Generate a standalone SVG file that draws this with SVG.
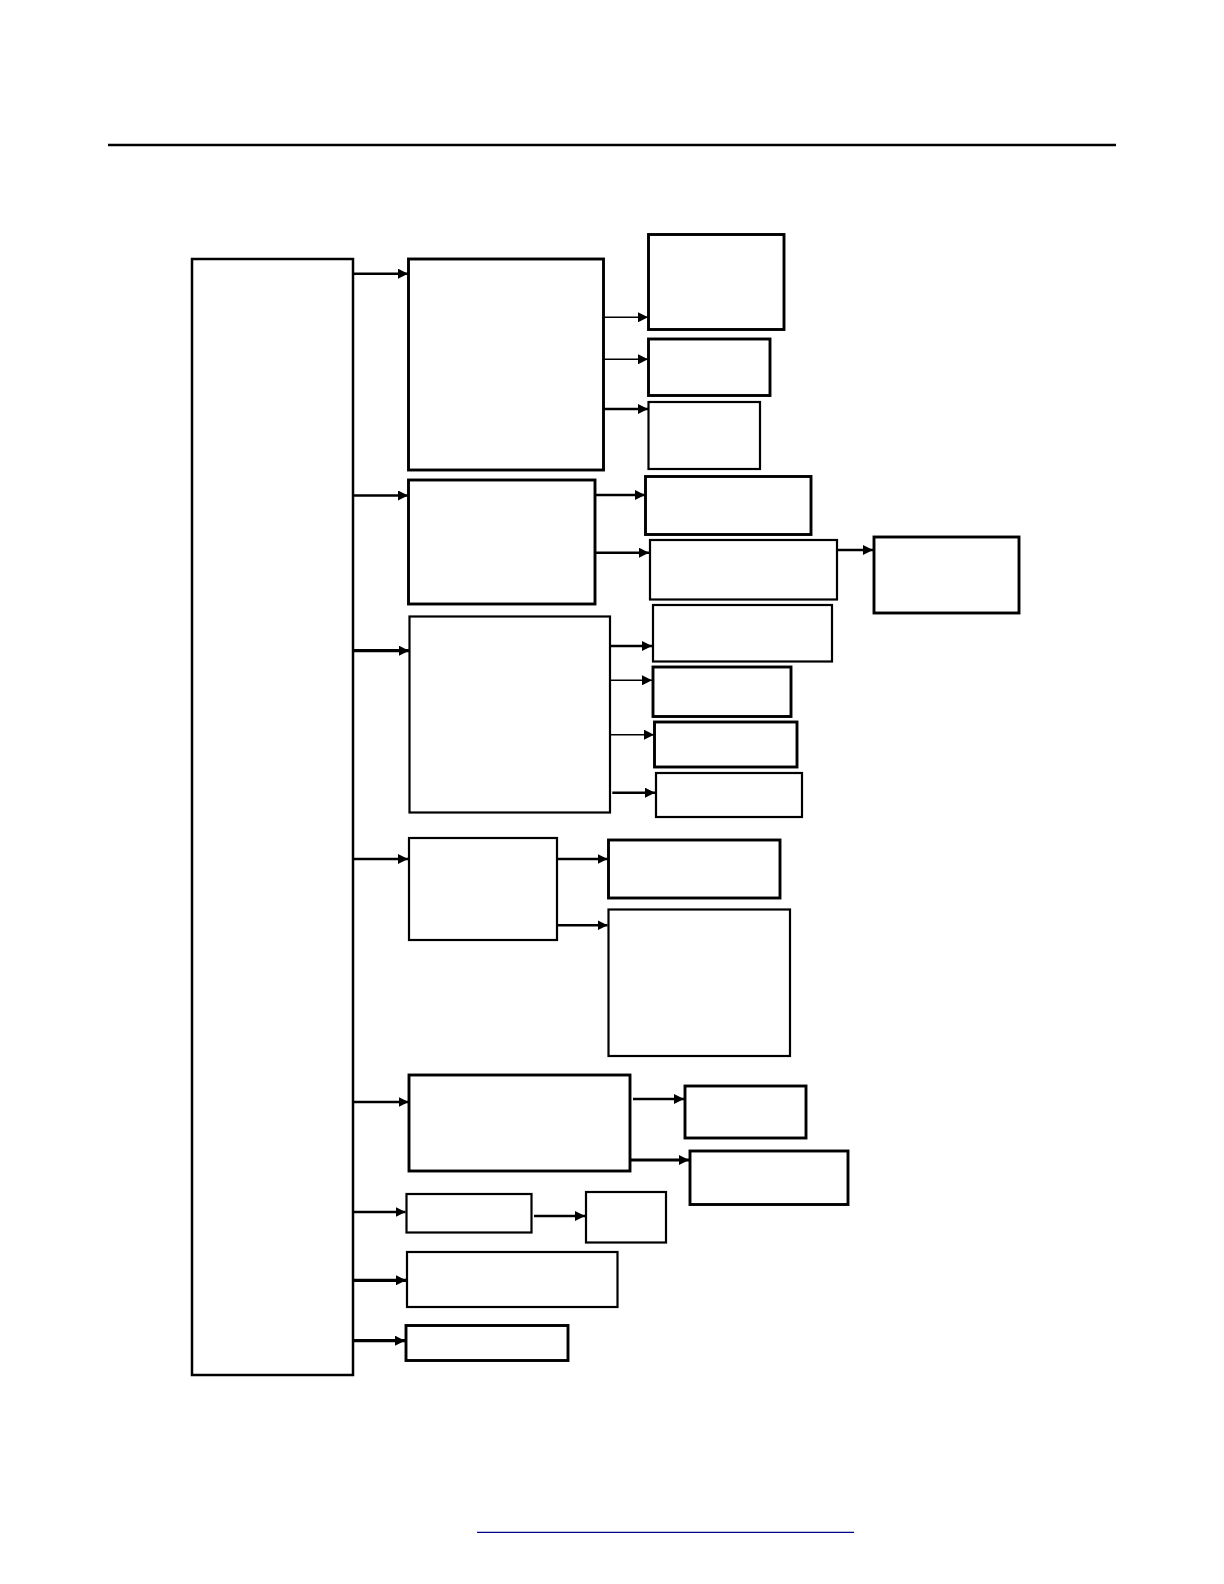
<svg xmlns="http://www.w3.org/2000/svg" width="1224" height="1584" viewBox="0 0 1224 1584">
<style>
.n{fill:#fff;stroke:#000;stroke-width:2.2}
.t{stroke-width:2.9}
.c{stroke:#000;stroke-width:1.6;fill:none;marker-end:url(#a)}
.h{stroke-width:2.5}
</style>
<defs>
<marker id="a" markerUnits="userSpaceOnUse" markerWidth="11" markerHeight="10" refX="10" refY="5" orient="auto">
<path d="M0,0 L10,5 L0,10 z" fill="#000"/>
</marker>
</defs>
<rect width="1224" height="1584" fill="#fff"/>
<line x1="108" y1="145" x2="1116" y2="145" stroke="#000" stroke-width="2.4"/>
<line x1="477" y1="1532.3" x2="854" y2="1532.3" stroke="#00008b" stroke-width="1.3"/>
<g id="main"><rect class="n" x="192" y="259" width="161" height="1116" style="stroke-width:2.5"/></g>
<g id="A"><rect class="n t" x="408.5" y="259" width="195" height="211"/></g>
<g id="A1"><rect class="n t" x="648.5" y="234.5" width="135.5" height="95"/></g>
<g id="A2"><rect class="n t" x="648.5" y="339" width="121.5" height="56.5"/></g>
<g id="A3"><rect class="n" x="648.5" y="402" width="111.5" height="67"/></g>
<g id="C"><rect class="n t" x="408.5" y="480" width="186.5" height="124"/></g>
<g id="C1"><rect class="n t" x="645.5" y="476.5" width="165.5" height="58"/></g>
<g id="C2"><rect class="n" x="650" y="540" width="187" height="59.5"/></g>
<g id="C3"><rect class="n t" x="874" y="537" width="145" height="76"/></g>
<g id="D"><rect class="n" x="409.5" y="616.5" width="200.5" height="196"/></g>
<g id="D1"><rect class="n" x="653" y="605" width="179" height="56.5"/></g>
<g id="D2"><rect class="n t" x="653" y="667" width="138" height="49.5"/></g>
<g id="D3"><rect class="n t" x="654.5" y="722" width="142.5" height="45"/></g>
<g id="D4"><rect class="n" x="656" y="773" width="146" height="44"/></g>
<g id="E"><rect class="n" x="409" y="838" width="148" height="102"/></g>
<g id="E1"><rect class="n t" x="608.5" y="840" width="171.5" height="58"/></g>
<g id="E2"><rect class="n" x="608.5" y="909.5" width="181.5" height="146.5"/></g>
<g id="F"><rect class="n t" x="409" y="1075" width="221" height="96"/></g>
<g id="F1"><rect class="n t" x="685" y="1086" width="121" height="52"/></g>
<g id="F2"><rect class="n t" x="690" y="1151" width="158" height="53.5"/></g>
<g id="G"><rect class="n" x="406.5" y="1194" width="125" height="38.5"/></g>
<g id="G1"><rect class="n" x="586" y="1192" width="80" height="50.5"/></g>
<g id="H"><rect class="n" x="407" y="1252" width="210.5" height="55"/></g>
<g id="I"><rect class="n t" x="406" y="1325.5" width="162" height="35"/></g>
<g id="connectors">
<line class="c h" x1="353" y1="273.7" x2="408" y2="273.7"/>
<line class="c" x1="603.5" y1="317.3" x2="648" y2="317.3"/>
<line class="c" x1="603.5" y1="359.3" x2="648" y2="359.3"/>
<line class="c h" x1="603.5" y1="409" x2="648" y2="409"/>
<line class="c h" x1="353" y1="495.5" x2="408" y2="495.5"/>
<line class="c h" x1="595" y1="495" x2="645" y2="495"/>
<line class="c h" x1="595" y1="552.7" x2="649" y2="552.7"/>
<line class="c h" x1="837" y1="550" x2="873" y2="550"/>
<line class="c" x1="353" y1="650.7" x2="409" y2="650.7" style="stroke-width:3.2"/>
<line class="c h" x1="610" y1="646" x2="652" y2="646"/>
<line class="c" x1="610" y1="680.3" x2="652" y2="680.3"/>
<line class="c" x1="610" y1="734.7" x2="654" y2="734.7"/>
<line class="c h" x1="612.3" y1="792.7" x2="655" y2="792.7"/>
<line class="c h" x1="353" y1="859" x2="408" y2="859"/>
<line class="c h" x1="557" y1="859" x2="607.5" y2="859"/>
<line class="c h" x1="557" y1="925.3" x2="607.5" y2="925.3"/>
<line class="c h" x1="353" y1="1102" x2="408.5" y2="1102"/>
<line class="c h" x1="633" y1="1099" x2="684" y2="1099"/>
<line class="c" x1="630" y1="1160" x2="689" y2="1160" style="stroke-width:3.2"/>
<line class="c h" x1="353" y1="1212" x2="405.5" y2="1212"/>
<line class="c h" x1="534" y1="1216" x2="585" y2="1216"/>
<line class="c" x1="353" y1="1280.3" x2="406" y2="1280.3" style="stroke-width:3.2"/>
<line class="c" x1="353" y1="1340.7" x2="405" y2="1340.7" style="stroke-width:3.2"/>
</g>
</svg>
